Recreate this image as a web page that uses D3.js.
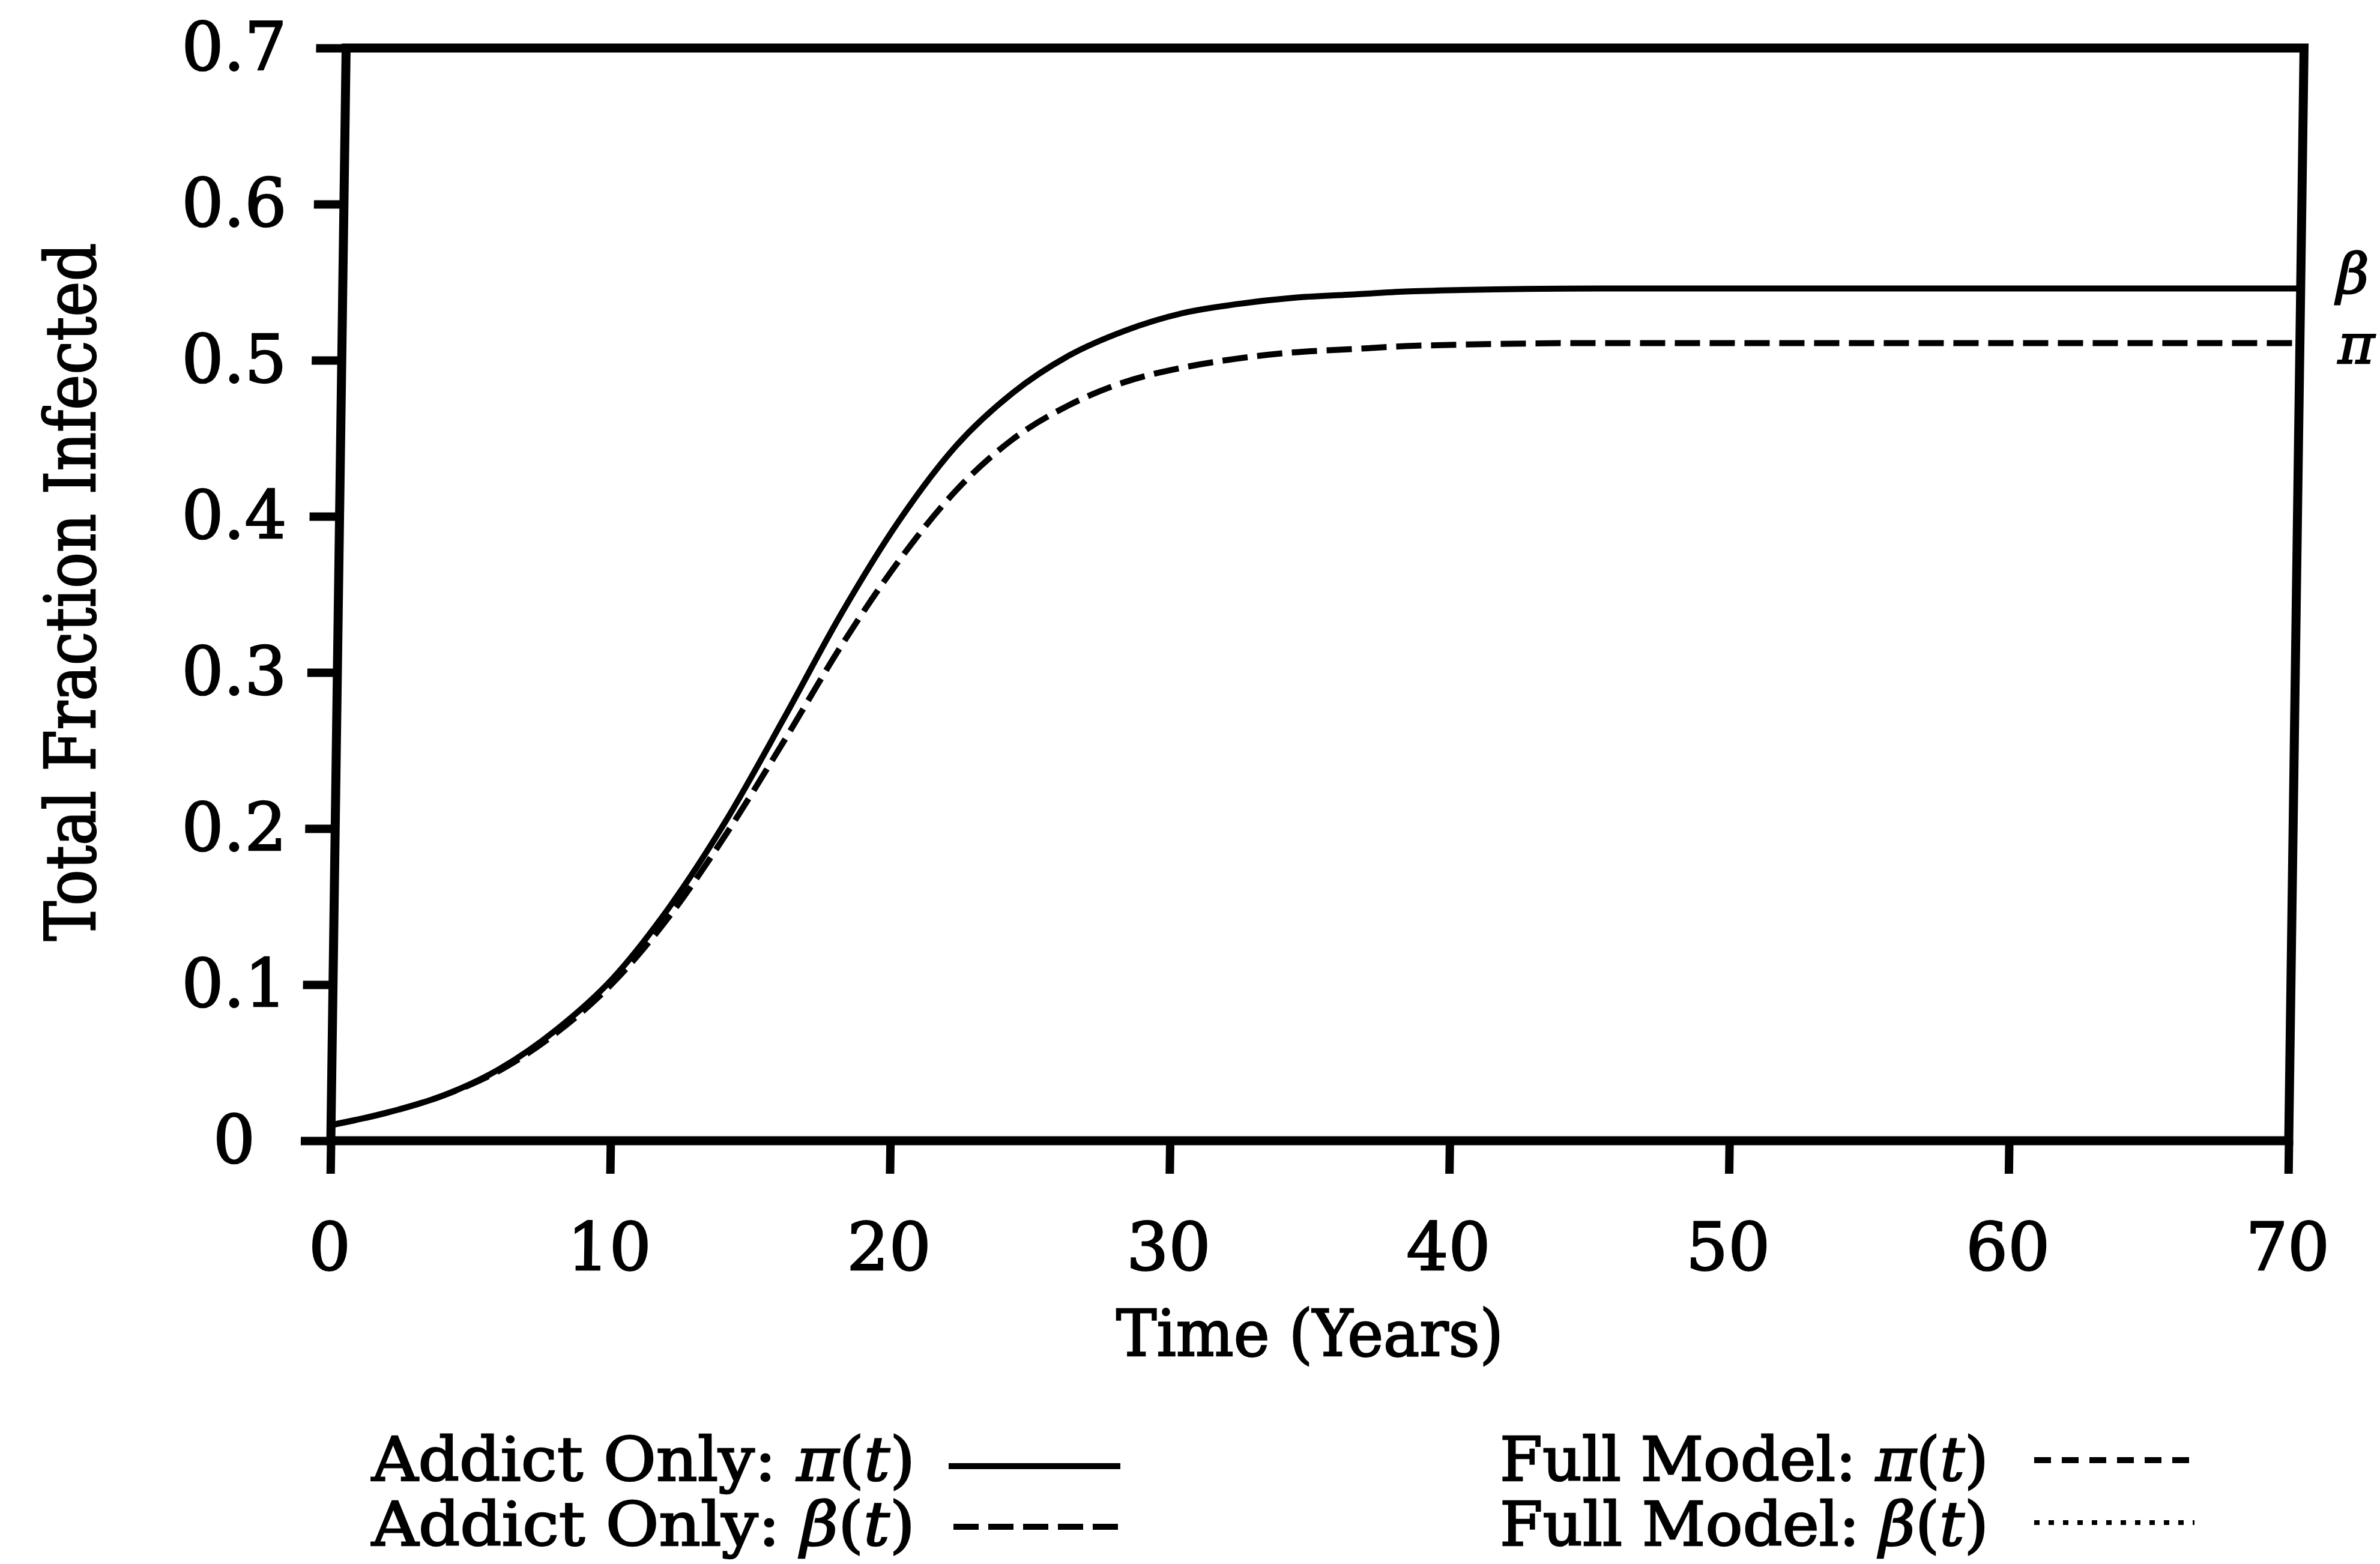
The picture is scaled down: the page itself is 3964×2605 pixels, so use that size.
<!DOCTYPE html>
<html>
<head>
<meta charset="utf-8">
<script src="https://cdn.jsdelivr.net/npm/d3@7"></script>
<style>
  html, body { margin: 0; padding: 0; background: #fff; }
  svg { display: block; }
  text { font-family: "DejaVu Serif", "Liberation Serif", serif; fill: #000; stroke: #000; stroke-width: 2.5px; }
</style>
</head>
<body>
<svg id="chart" width="3964" height="2605"></svg>
<script>
// Time in years
const years = [0, 2, 4, 6, 8, 10, 12, 14, 16, 18, 20, 22, 24, 26, 28, 30, 32, 34, 36, 38, 40, 45, 50, 55, 60, 65, 70];
// Addict-only model, total fraction infected
const addictPi = [0.010, 0.018, 0.029, 0.046, 0.071, 0.104, 0.150, 0.206, 0.271, 0.338, 0.397, 0.445, 0.479, 0.503, 0.519, 0.530, 0.536, 0.540, 0.542, 0.544, 0.545, 0.546, 0.546, 0.546, 0.546, 0.546, 0.546];
const addictBeta = [0.010, 0.018, 0.029, 0.045, 0.069, 0.101, 0.144, 0.197, 0.256, 0.317, 0.371, 0.416, 0.449, 0.471, 0.486, 0.495, 0.501, 0.505, 0.507, 0.509, 0.510, 0.511, 0.511, 0.511, 0.511, 0.511, 0.511];

const xTicks = [0, 10, 20, 30, 40, 50, 60, 70];
const yTicks = [0, 0.1, 0.2, 0.3, 0.4, 0.5, 0.6, 0.7];
const yTickLabels = ["0", "0.1", "0.2", "0.3", "0.4", "0.5", "0.6", "0.7"];

const legendItems = [
  { prefix: "Addict Only: ", sym: "π", dash: null },
  { prefix: "Addict Only: ", sym: "β", dash: "42,16" },
  { prefix: "Full Model: ", sym: "π", dash: "28,18" },
  { prefix: "Full Model: ", sym: "β", dash: "9,15" }
];

const svg = d3.select("#chart");
const TICK_FONT = 110;

const x = d3.scaleLinear().domain([0, 70]).range([551, 3812]);
const y = d3.scaleLinear().domain([0, 0.7]).range([1900, 80]);

// the printed frame leans slightly to the right going up
const lean = -Math.atan(0.014) * 180 / Math.PI;
const plot = svg.append("g")
  .attr("transform", `translate(0,${y(0)}) skewX(${lean}) translate(0,${-y(0)})`);

// frame
plot.append("rect")
  .attr("x", x(0)).attr("y", y(0.7))
  .attr("width", x(70) - x(0)).attr("height", y(0) - y(0.7))
  .attr("fill", "none").attr("stroke", "#000").attr("stroke-width", 15);

// left axis tick marks
const gy = plot.append("g")
  .attr("transform", `translate(${x(0)},0)`)
  .call(d3.axisLeft(y).tickValues(yTicks).tickSize(50).tickFormat(""));
gy.select(".domain").remove();
gy.selectAll(".tick line").attr("stroke", "#000").attr("stroke-width", 14);

// left axis labels
const gyl = svg.append("g")
  .attr("transform", `translate(390,0)`)
  .call(d3.axisLeft(y).tickValues(yTicks).tickSize(0).tickPadding(0)
    .tickFormat((d, i) => yTickLabels[i]));
gyl.select(".domain").remove();
gyl.selectAll(".tick text").attr("font-size", TICK_FONT)
  .attr("font-family", "DejaVu Serif").attr("text-anchor", "middle");

// bottom axis
const gx = plot.append("g")
  .attr("transform", `translate(0,${y(0)})`)
  .call(d3.axisBottom(x).tickValues(xTicks).tickSize(55).tickPadding(82)
    .tickFormat(d3.format("d")));
gx.select(".domain").remove();
gx.selectAll(".tick line").attr("stroke", "#000").attr("stroke-width", 14);
gx.selectAll(".tick text").attr("font-size", TICK_FONT).attr("font-family", "DejaVu Serif");

// curves
const line = d3.line()
  .x((d, i) => x(years[i]))
  .y(d => y(d))
  .curve(d3.curveMonotoneX);

plot.append("path").datum(addictPi)
  .attr("d", line).attr("fill", "none")
  .attr("stroke", "#000").attr("stroke-width", 10);

plot.append("path").datum(addictBeta)
  .attr("d", line).attr("fill", "none")
  .attr("stroke", "#000").attr("stroke-width", 10)
  .attr("stroke-dasharray", "42,16");

// end labels
plot.append("text")
  .attr("x", x(70) + 60).attr("y", y(addictPi[addictPi.length - 1]) + 8)
  .attr("font-size", 92).attr("font-style", "italic").text("β");
plot.append("text")
  .attr("x", x(70) + 64).attr("y", y(addictBeta[addictBeta.length - 1]) + 34)
  .attr("font-size", 92).attr("font-style", "italic").text("π");

// axis titles
svg.append("text")
  .attr("transform", `translate(158,986) rotate(-90)`)
  .attr("text-anchor", "middle").attr("font-size", 116)
  .attr("textLength", 1163).attr("lengthAdjust", "spacingAndGlyphs")
  .text("Total Fraction Infected");

svg.append("text")
  .attr("x", (x(0) + x(70)) / 2).attr("y", 2258)
  .attr("text-anchor", "middle").attr("font-size", 106)
  .attr("textLength", 645).attr("lengthAdjust", "spacingAndGlyphs")
  .text("Time (Years)");

// legend
const legendPos = [
  { tx: 619, ty: 2466, w: 905, lx0: 1580, lx1: 1866, ly: 2442 },
  { tx: 619, ty: 2574, w: 905, lx0: 1588, lx1: 1866, ly: 2543 },
  { tx: 2498, ty: 2466, w: 814, lx0: 3388, lx1: 3661, ly: 2432 },
  { tx: 2498, ty: 2574, w: 814, lx0: 3388, lx1: 3655, ly: 2536 }
];
const legend = svg.append("g");
legendItems.forEach((item, i) => {
  const p = legendPos[i];
  const t = legend.append("text")
    .attr("x", p.tx).attr("y", p.ty)
    .attr("font-size", 101)
    .attr("textLength", p.w).attr("lengthAdjust", "spacingAndGlyphs");
  t.append("tspan").text(item.prefix);
  t.append("tspan").attr("font-style", "italic").text(item.sym);
  t.append("tspan").text("(");
  t.append("tspan").attr("font-style", "italic").text("t");
  t.append("tspan").text(")");
  const l = legend.append("line")
    .attr("x1", p.lx0).attr("x2", p.lx1).attr("y1", p.ly).attr("y2", p.ly)
    .attr("stroke", "#000").attr("stroke-width", i === 3 ? 8 : 10);
  if (item.dash) l.attr("stroke-dasharray", item.dash);
});
</script>
</body>
</html>
